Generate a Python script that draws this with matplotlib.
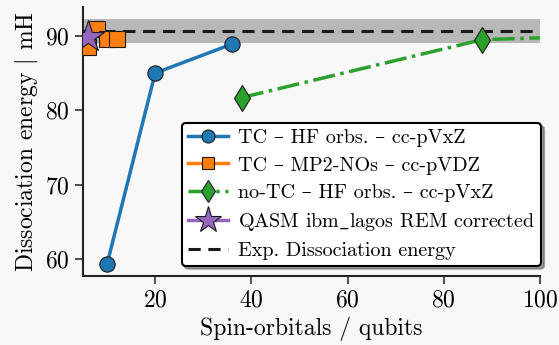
import numpy as np
import matplotlib
matplotlib.use("Agg")
import matplotlib.pyplot as plt

plt.rcParams['font.family'] = ['cmr10', 'DejaVu Serif']
plt.rcParams['mathtext.fontset'] = 'cm'
plt.rcParams['axes.formatter.use_mathtext'] = True

# data
tc_hf_x = [10, 20, 36]
tc_hf_y = [59.3, 85.0, 88.9]
tc_mp2_x = [6, 8, 10, 12]
tc_mp2_y = [88.5, 90.9, 89.6, 89.6]
notc_x = [38, 88, 170]
notc_y = [81.7, 89.5, 91.1]
qasm_x = [6]
qasm_y = [89.9]
exp_energy = 90.7
chem_acc = 1.6

bg = '#f8f8f8'
fig = plt.figure(figsize=(5.59, 3.45), dpi=100, facecolor=bg)
ax = fig.add_axes([0.1485, 0.2, 0.8175, 0.78])
ax.set_facecolor(bg)

ax.axhspan(exp_energy - chem_acc, exp_energy + chem_acc, color='#b8b8b8', lw=0, zorder=0)

ax.plot(tc_hf_x, tc_hf_y, '-o', color='#1f77b4', lw=2.5, ms=11, mec='#1a1a1a', mew=0.8,
        label='TC – HF orbs. – cc-pVxZ', zorder=3)
ax.plot(tc_mp2_x, tc_mp2_y, '-s', color='#ff7f0e', lw=2.5, ms=11, mec='#1a1a1a', mew=0.8,
        label='TC – MP2-NOs – cc-pVDZ', zorder=3)
ax.plot(notc_x, notc_y, '-.d', color='#2ca02c', lw=2.5, ms=13, mec='#1a1a1a', mew=0.8,
        label='no-TC – HF orbs. – cc-pVxZ', zorder=3)
ax.plot(qasm_x, qasm_y, '-*', color='#9467bd', lw=2.5, ms=24, mec='#1a1a1a', mew=0.8,
        label=r'QASM ibm$\_$lagos REM corrected', zorder=4)
ax.axhline(exp_energy, color='#1a1a1a', ls=(0, (4, 2.5)), lw=2.2,
           label='Exp. Dissociation energy', zorder=2)

ax.set_xlim(5, 100)
ax.set_ylim(57.7, 93.9)
ax.set_xticks([20, 40, 60, 80, 100])
ax.set_yticks([60, 70, 80, 90])
ax.tick_params(labelsize=17, length=6, width=1.2, color='#333333')
for s in ['top', 'right']:
    ax.spines[s].set_visible(False)
for s in ['left', 'bottom']:
    ax.spines[s].set_linewidth(1.5)
    ax.spines[s].set_color('#222222')

ax.set_xlabel('Spin-orbitals / qubits', fontsize=17)
ax.set_ylabel(r'Dissociation energy $|$ mH', fontsize=17)

leg = ax.legend(loc='lower right', fontsize=14.5, shadow=True, fancybox=True,
                framealpha=1, edgecolor='black', facecolor='white',
                borderpad=0.3, labelspacing=0.45, handlelength=2.0, handletextpad=0.5,
                markerscale=0.85, bbox_to_anchor=(1.025, 0.0))
leg.get_frame().set_linewidth(1.5)

fig.savefig('out.png', dpi=100, facecolor=bg)
